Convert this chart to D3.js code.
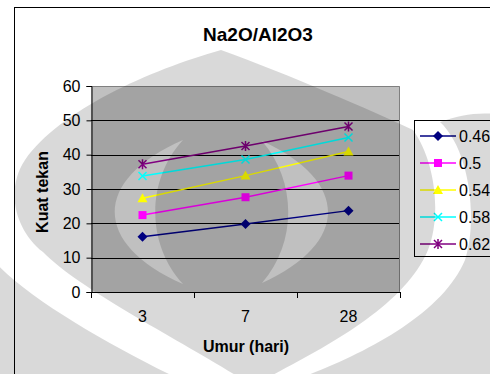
<!DOCTYPE html>
<html>
<head>
<meta charset="utf-8">
<script src="https://cdn.jsdelivr.net/npm/d3@7"></script>
<style>
  body { margin: 0; background: #fff; }
  svg { display: block; font-family: "Liberation Sans", Arial, sans-serif; }
</style>
</head>
<body>
<script>
const width = 490, height = 374;

// data
const days = ["3", "7", "28"];
const ratios = ["0.46", "0.5", "0.54", "0.58", "0.62"];
const v046 = [16.1, 19.8, 23.7];
const v050 = [22.4, 27.6, 33.9];
const v054 = [27.3, 33.9, 40.9];
const v058 = [33.8, 38.6, 45.0];
const v062 = [37.2, 42.5, 48.2];
const yTicks = [0, 10, 20, 30, 40, 50, 60];

const series = [
  { name: ratios[0], values: v046, color: "#000080", marker: "diamond" },
  { name: ratios[1], values: v050, color: "#ff00ff", marker: "square" },
  { name: ratios[2], values: v054, color: "#ffff00", marker: "triangle" },
  { name: ratios[3], values: v058, color: "#00ffff", marker: "cross" },
  { name: ratios[4], values: v062, color: "#800080", marker: "star" }
];

const svg = d3.select("body").append("svg")
  .attr("width", width)
  .attr("height", height);

// chart area
svg.append("rect")
  .attr("x", 14.5).attr("y", 7.5)
  .attr("width", 500).attr("height", 400)
  .attr("fill", "#fff").attr("stroke", "#000");

const x = d3.scaleBand().domain(days).range([91, 400]);
const y = d3.scaleLinear().domain([0, 60]).range([292, 86]);

// plot area
svg.append("rect")
  .attr("x", x.range()[0]).attr("y", y(60))
  .attr("width", x.range()[1] - x.range()[0]).attr("height", y(0) - y(60))
  .attr("fill", "#c0c0c0");

// gridlines
svg.append("g").selectAll("line")
  .data(yTicks.filter(d => d > 0 && d < 60))
  .join("line")
  .attr("x1", x.range()[0]).attr("x2", x.range()[1])
  .attr("y1", d => Math.round(y(d)) + 0.5).attr("y2", d => Math.round(y(d)) + 0.5)
  .attr("stroke", "#000");

// plot border top/right
svg.append("path")
  .attr("d", `M${x.range()[0]},${y(60) + 0.5}H${x.range()[1] - 0.5}V${y(0)}`)
  .attr("fill", "none").attr("stroke", "#808080");

// y axis
const yAxis = svg.append("g")
  .attr("transform", `translate(${x.range()[0] + 0.5},0)`)
  .call(d3.axisLeft(y).tickValues(yTicks).tickSize(5).tickPadding(6));
yAxis.select(".domain").attr("stroke", "#000");
yAxis.selectAll("text").attr("font-size", 16).attr("fill", "#000")
  .attr("font-family", "Liberation Sans, Arial, sans-serif");

// x axis line and ticks at category boundaries
const xg = svg.append("g");
xg.append("line")
  .attr("x1", x.range()[0]).attr("x2", x.range()[1])
  .attr("y1", y(0) + 0.5).attr("y2", y(0) + 0.5)
  .attr("stroke", "#000");
xg.selectAll(".tk")
  .data(days.map(d => x(d)).concat([x.range()[1]]))
  .join("line")
  .attr("x1", d => Math.round(d) + 0.5).attr("x2", d => Math.round(d) + 0.5)
  .attr("y1", y(0)).attr("y2", y(0) + 6)
  .attr("stroke", "#000");
xg.selectAll("text")
  .data(days)
  .join("text")
  .attr("x", d => x(d) + x.bandwidth() / 2)
  .attr("y", y(0) + 30)
  .attr("text-anchor", "middle")
  .attr("font-size", 16)
  .text(d => d);

// titles
svg.append("text")
  .attr("x", 258).attr("y", 41)
  .attr("text-anchor", "middle")
  .attr("font-size", 19).attr("font-weight", "bold")
  .text("Na2O/Al2O3");

svg.append("text")
  .attr("x", 246).attr("y", 352)
  .attr("text-anchor", "middle")
  .attr("font-size", 16).attr("font-weight", "bold")
  .text("Umur (hari)");

svg.append("text")
  .attr("transform", "translate(48,192) rotate(-90)")
  .attr("text-anchor", "middle")
  .attr("font-size", 16).attr("font-weight", "bold")
  .text("Kuat tekan");

// markers
function drawMarker(g, type, color) {
  if (type === "diamond") {
    g.append("path").attr("d", "M0,-5L5,0L0,5L-5,0Z").attr("fill", color);
  } else if (type === "square") {
    g.append("rect").attr("x", -4).attr("y", -4).attr("width", 8).attr("height", 8).attr("fill", color);
  } else if (type === "triangle") {
    g.append("path").attr("d", "M0,-5L5,4L-5,4Z").attr("fill", color);
  } else if (type === "cross") {
    g.append("path").attr("d", "M-4,-4L4,4M-4,4L4,-4").attr("stroke", color).attr("stroke-width", 1.5);
  } else if (type === "star") {
    g.append("path").attr("d", "M-4,-4L4,4M-4,4L4,-4M0,-5V5").attr("stroke", color).attr("stroke-width", 1.5);
  }
}

const line = d3.line()
  .x((d, i) => x(days[i]) + x.bandwidth() / 2)
  .y(d => y(d));

series.forEach(s => {
  svg.append("path")
    .attr("d", line(s.values))
    .attr("fill", "none")
    .attr("stroke", s.color)
    .attr("stroke-width", 1.5);
  s.values.forEach((v, i) => {
    const g = svg.append("g")
      .attr("transform", `translate(${x(days[i]) + x.bandwidth() / 2},${y(v)})`);
    drawMarker(g, s.marker, s.color);
  });
});

// legend
const legend = svg.append("g");
legend.append("rect")
  .attr("x", 414.5).attr("y", 120.5)
  .attr("width", 100).attr("height", 136)
  .attr("fill", "#fff").attr("stroke", "#000");
series.forEach((s, i) => {
  const ly = 136 + i * 27;
  legend.append("line")
    .attr("x1", 420).attr("x2", 456)
    .attr("y1", ly).attr("y2", ly)
    .attr("stroke", s.color).attr("stroke-width", 1.5);
  drawMarker(legend.append("g").attr("transform", `translate(438,${ly})`), s.marker, s.color);
  legend.append("text")
    .attr("x", 459).attr("y", ly + 6)
    .attr("font-size", 16)
    .text(s.name);
});

// page watermark (logo) laid over everything, darkening like a grey multiply
const wm = svg.append("g").attr("fill", "#000").attr("fill-opacity", 0.15).attr("pointer-events", "none");
wm.append("path")
  .attr("fill-rule", "evenodd")
  .attr("d",
    "M221,50C150,70 60,110 25,160C5,190 15,230 43,252C80,290 180,340 240,378L267,378" +
    "C330,345 405,305 428,250C442,215 435,160 413,130C370,110 290,75 221,50Z" +
    "M183,140C92,180 92,244 183,284C146,244 146,180 183,140Z" +
    "M262,141C350,181 350,243 262,283C297,243 297,181 262,141Z");
wm.append("path")
  .attr("d", "M440,122C470,150 478,220 465,260C442,315 362,355 300,378L495,378L495,114C478,112 458,115 440,122Z");
wm.append("path")
  .attr("d", "M-5,262C30,300 110,345 177,378L-5,378Z");
</script>
</body>
</html>
